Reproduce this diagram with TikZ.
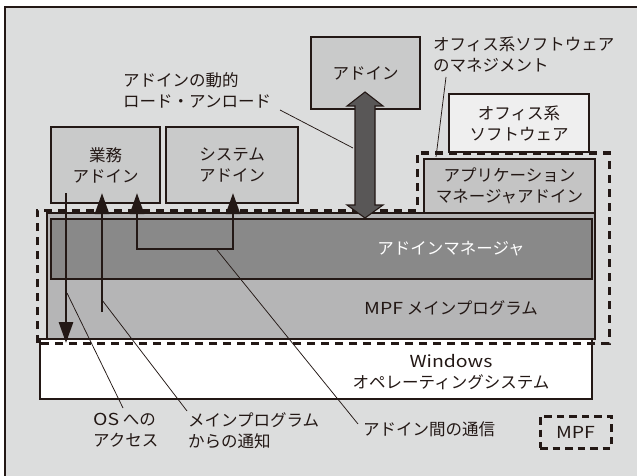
\documentclass[tikz,border=0pt]{standalone}
\usepackage{fontspec}
\setmainfont{Noto Sans CJK JP}
\newfontfamily\lat[FakeStretch=1.18]{Noto Sans CJK JP}
\usetikzlibrary{arrows.meta}
\definecolor{ink}{HTML}{231815}
\definecolor{bgc}{HTML}{DCDDDD}
\definecolor{boxc}{HTML}{C9CACA}
\definecolor{offc}{HTML}{EFEFEF}
\definecolor{appc}{HTML}{C4C4C4}
\definecolor{mainc}{HTML}{B5B5B6}
\definecolor{mgrc}{HTML}{898989}
\definecolor{bigc}{HTML}{595757}
\tikzset{
  txt/.style={font=\fontsize{16.5}{21}\selectfont, text=ink, inner sep=0pt, align=center},
  box/.style={draw=ink, line width=1.2pt, inner sep=0pt, font=\fontsize{16.5}{21}\selectfont, text=ink, align=center},
  mpfdash/.style={draw=ink, line width=3pt, dash pattern=on 8pt off 6pt},
  flow/.style={draw=ink, line width=2.8pt, line join=miter},
  tip/.style={-{Triangle[length=21pt,width=14pt]}},
  leader/.style={draw=ink, line width=0.75pt},
}
\begin{document}
\begin{tikzpicture}[x=1pt,y=-1pt]
\useasboundingbox (0,0) rectangle (637,476);
\fill[bgc] (5,7) rectangle (637,476);
\draw[ink, line width=1.3pt] (637,7) -- (5,7) -- (5,476);

% boxes
\node[box, fill=boxc, minimum width=109pt, minimum height=76pt] (gyomu) at (105.5,165) {業務\\アドイン};
\node[box, fill=boxc, minimum width=132pt, minimum height=76pt] (sys) at (232,165) {システム\\アドイン};
\node[box, fill=boxc, minimum width=109pt, minimum height=72pt] (addin) at (365.5,73) {アドイン};
\node[box, fill=offc, minimum width=140pt, minimum height=58pt] (office) at (519,123) {オフィス系\\ソフトウェア};
\node[box, fill=appc, minimum width=171pt, minimum height=54pt] (appmgr) at (509.5,186) {アプリケーション\\マネージャアドイン};
\node[box, fill=mainc, minimum width=548pt, minimum height=126pt] (main) at (321,276) {};
\node[box, fill=mgrc, minimum width=541pt, minimum height=60pt] (mgr) at (321.5,249) {};
\node[box, fill=white, minimum width=552pt, minimum height=60pt] (win) at (316,369) {};

\node[txt, text=white] (mgrt) at (451,249) {アドインマネージャ};
\node[txt] (maint) at (451,308) {{\lat MPF} メインプログラム};
\node[txt] (wint) at (451,372) {{\lat Windows}\\オペレーティングシステム};

% MPF region
\draw[mpfdash] (37,343) -- (37,210) -- (417,210) -- (417,153) -- (609,153) -- (609,343) -- cycle;

% big double arrow
\draw[ink, line width=1.1pt, fill=bigc, line join=miter] (365,92) -- (383,106) -- (375,106) -- (375,205) -- (383,205) -- (365,218) -- (347,205) -- (355,205) -- (355,106) -- (347,106) -- cycle;

% arrow coordinates
\coordinate (osS) at (66,193);
\coordinate (osE) at (66,343);
\coordinate (ntS) at (102,312);
\coordinate (ntE) at (102,193);
\coordinate (cmA) at (137,193);
\coordinate (cmB) at (233,193);
\draw[flow, tip] (osS) -- (osE);
\draw[flow, tip] (ntS) -- (ntE);
\draw[flow, {Triangle[length=21pt,width=14pt]}-{Triangle[length=21pt,width=14pt]}] (cmA) -- (cmA |- 0,249) -- (cmB |- 0,249) -- (cmB);

% labels
\node[txt, align=left, anchor=west] (dyn) at (123,90) {アドインの動的\\ロード・アンロード};
\node[txt, align=left, anchor=west] (mgmt) at (433,55) {オフィス系ソフトウェア\\のマネジメント};
\node[txt, align=left, anchor=west] (osl) at (93,430.5) {{\lat OS} への\\アクセス};
\node[txt, align=left, anchor=west] (ntl) at (188,430.5) {メインプログラム\\からの通知};
\node[txt, align=left, anchor=west] (cml) at (363,429) {アドイン間の通信};
\node[txt, draw=ink, line width=3pt, dash pattern=on 7.5pt off 5pt, minimum width=71pt, minimum height=32pt] (legend) at (575.5,432) {\lat MPF};

% leader lines
\coordinate (dynA) at (280,110);
\coordinate (dynB) at (353,148);
\coordinate (mgA) at (446,77);
\coordinate (mgB) at (436,157);
\coordinate (osA) at (67,293);
\coordinate (osB) at (123,408);
\coordinate (ntA) at (102,300);
\coordinate (ntB) at (187,411);
\coordinate (cmL) at (217,250);
\coordinate (cmR) at (358,424);
\draw[leader] (dynA) -- (dynB);
\draw[leader] (mgA) -- (mgB);
\draw[leader] (osA) -- (osB);
\draw[leader] (ntA) -- (ntB);
\draw[leader] (cmL) -- (cmR);
\end{tikzpicture}
\end{document}
